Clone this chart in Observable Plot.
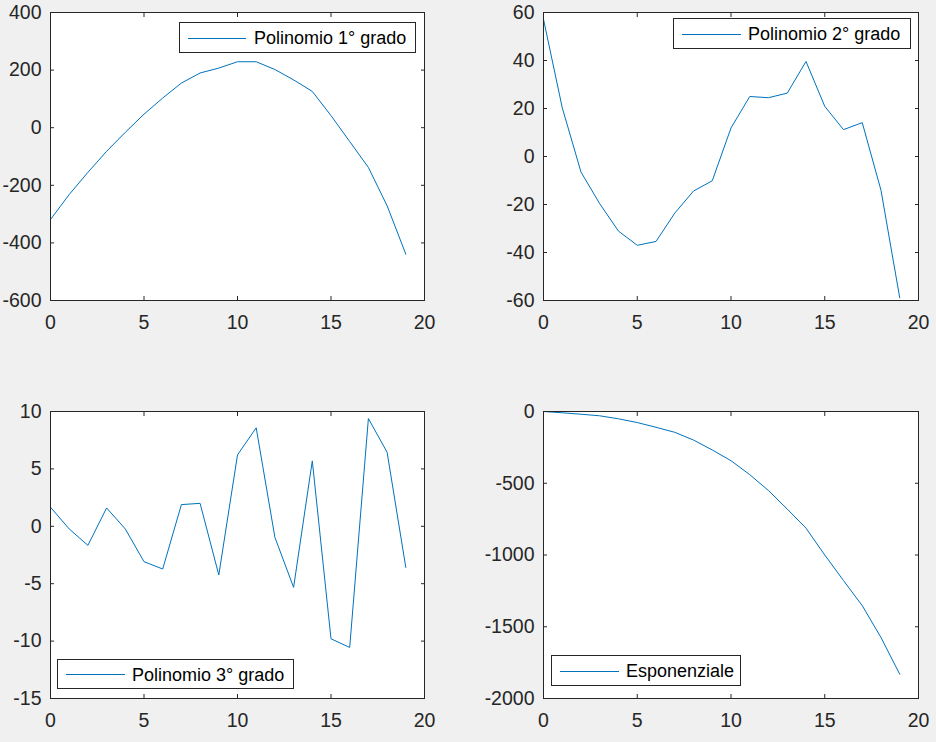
<!DOCTYPE html>
<html><head><meta charset="utf-8">
<script src="https://cdn.jsdelivr.net/npm/d3@7"></script>
<script src="https://cdn.jsdelivr.net/npm/@observablehq/plot@0.6"></script>
<style>
body{margin:0;background:#f0f0f0;width:936px;height:742px;position:relative;overflow:hidden;font-family:"Liberation Sans",Arial,Helvetica,sans-serif}
.panel{position:absolute}
.legend{position:absolute;background:#fff;border:1px solid #262626;box-sizing:border-box;font-size:18px;color:#000}
.legend .sw{position:absolute;height:0;border-top:1px solid #0072BD}
.legend .tx{position:absolute;white-space:nowrap;line-height:1}
</style></head><body>
<script>
// ---- data ----
const xValues = [0,1,2,3,4,5,6,7,8,9,10,11,12,13,14,15,16,17,18,19];
const xTicks = [0,5,10,15,20];

const poly1 = [-319,-232,-155,-82,-16,47,103,155,190,207,229,229,202,166,126,42,-48,-138,-271,-439];
const poly1Ticks = [-600,-400,-200,0,200,400];

const poly2 = [57.2,20.3,-6.5,-19.7,-31.1,-37,-35.4,-23.6,-14.4,-10.1,11.9,25,24.5,26.4,39.6,20.9,11.2,14.1,-14.1,-58.9];
const poly2Ticks = [-60,-40,-20,0,20,40,60];

const poly3 = [1.66,-0.23,-1.66,1.6,-0.23,-3.08,-3.72,1.89,2.0,-4.24,6.22,8.58,-0.96,-5.32,5.70,-9.80,-10.55,9.39,6.45,-3.58];
const poly3Ticks = [-15,-10,-5,0,5,10];

const expo = [0,-9,-19,-30,-51,-77,-110,-145,-199,-268,-343,-440,-551,-680,-813,-1000,-1178,-1353,-1575,-1831];
const expoTicks = [-2000,-1500,-1000,-500,0];

const legendNames = ["Polinomio 1° grado","Polinomio 2° grado","Polinomio 3° grado","Esponenziale"];

// ---- layout ----
const panels = [
  {name:legendNames[0], values:poly1, ticks:poly1Ticks, left:0,   top:0,   mL:50, mR:44, mT:12, mB:71,
   lg:{left:179, top:22, w:237, h:31, lineL:8, lineW:58, textL:74}},
  {name:legendNames[1], values:poly2, ticks:poly2Ticks, left:468, top:0,   mL:75, mR:18, mT:12, mB:71,
   lg:{left:673, top:18, w:238, h:31, lineL:8, lineW:59, textL:74}},
  {name:legendNames[2], values:poly3, ticks:poly3Ticks, left:0,   top:371, mL:50, mR:44, mT:40, mB:44,
   lg:{left:57, top:659, w:237, h:30, lineL:8, lineW:59, textL:74}},
  {name:legendNames[3], values:expo,  ticks:expoTicks,  left:468, top:371, mL:75, mR:18, mT:40, mB:44,
   lg:{left:551, top:655, w:190, h:31, lineL:8, lineW:59, textL:74}}
];

const fmt = d => String(d);
const axisColor = "#262626";

for (const p of panels) {
  const rows = xValues.map((x, i) => ({x, y: p.values[i]}));
  const chart = Plot.plot({
    width: 468, height: 371,
    marginLeft: p.mL, marginRight: p.mR, marginTop: p.mT, marginBottom: p.mB,
    style: {background: "transparent", fontFamily: '"Liberation Sans", Arial, Helvetica, sans-serif', fontSize: "19.5px", color: axisColor},
    x: {domain: [0, 20]},
    y: {domain: [p.ticks[0], p.ticks[p.ticks.length - 1]]},
    marks: [
      Plot.frame({fill: "white", stroke: null}),
      Plot.lineY(rows, {x: "x", y: "y", stroke: "#0072BD", strokeWidth: 1}),
      Plot.axisX({ticks: xTicks, anchor: "bottom", tickSize: -4, tickPadding: 19, tickFormat: fmt, label: null}),
      Plot.axisX({ticks: xTicks, anchor: "top", tickSize: -4, tickFormat: () => "", label: null}),
      Plot.axisY({ticks: p.ticks, anchor: "left", tickSize: -4, tickPadding: 13, tickFormat: fmt, label: null}),
      Plot.axisY({ticks: p.ticks, anchor: "right", tickSize: -4, tickFormat: () => "", label: null}),
      Plot.frame({stroke: axisColor, strokeWidth: 1})
    ]
  });
  const wrap = document.createElement("div");
  wrap.className = "panel";
  wrap.style.left = p.left + "px";
  wrap.style.top = p.top + "px";
  wrap.appendChild(chart);
  document.body.appendChild(wrap);

  const lg = document.createElement("div");
  lg.className = "legend";
  Object.assign(lg.style, {left: p.lg.left + "px", top: p.lg.top + "px", width: p.lg.w + "px", height: p.lg.h + "px"});
  const sw = document.createElement("div");
  sw.className = "sw";
  Object.assign(sw.style, {left: p.lg.lineL + "px", width: p.lg.lineW + "px", top: Math.round(p.lg.h / 2 - 1) + "px"});
  const tx = document.createElement("div");
  tx.className = "tx";
  tx.textContent = p.name;
  Object.assign(tx.style, {left: p.lg.textL + "px", top: Math.round(p.lg.h / 2 - 9.5) + "px"});
  lg.appendChild(sw);
  lg.appendChild(tx);
  document.body.appendChild(lg);
}
</script>
</body></html>
